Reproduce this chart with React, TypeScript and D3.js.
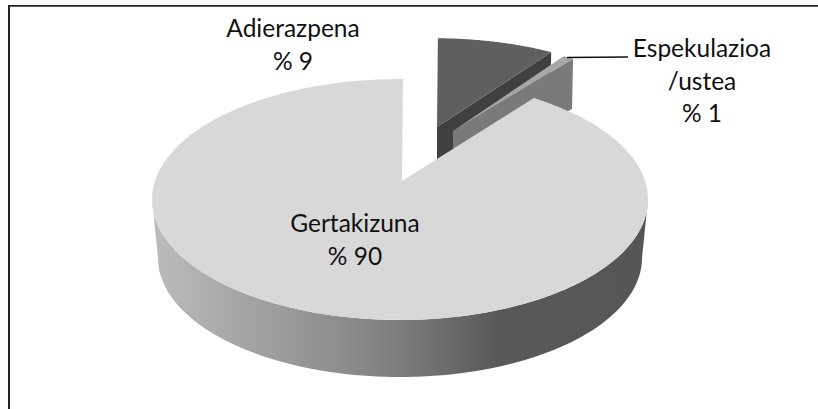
import React from "react";
import * as d3 from "d3";

// Data
const categories = ["Gertakizuna", "Adierazpena", "Espekulazioa"];
const seriesValues = [89.6, 9.5, 0.9];
const labelValues = ["% 90", "% 9", "% 1"];
const topColors = ["#d8d8d8", "#5f5f5f", "#a6a6a6"];
const cutColors = ["#d8d8d8", "#404040", "#7a7a7a"];

const W = 818, H = 409;
const center = { x: 400, y: 199.5 };
const radius = { x: 248, y: 120.5 };
const apex = { x: 402, y: 181 };
const bottom = { x: 400, y: 258, rx: 242, ry: 119 };
const squash = radius.x / radius.y;
const startDeg = 37.7;
const explode = [
  { apex, sx: 1, sy: 1, depth: 0 },
  { apex: { x: 437, y: 127 }, sx: 0.94, sy: 0.87, depth: 48 },
  { apex: { x: 453, y: 131 }, sx: 0.91, sy: 0.87, depth: 50 },
];

type P = { x: number; y: number };

function rim(a: number): P {
  const dx = Math.sin(a), dy = -Math.cos(a) / squash;
  const ox = (apex.x - center.x) / radius.x, oy = (apex.y - center.y) / radius.y;
  const ux = dx / radius.x, uy = dy / radius.y;
  const A = ux * ux + uy * uy, B = 2 * (ox * ux + oy * uy), C = ox * ox + oy * oy - 1;
  const t = (-B + Math.sqrt(B * B - 4 * A * C)) / (2 * A);
  return { x: apex.x + t * dx, y: apex.y + t * dy };
}

const arcs = d3.pie<number>().sort(null)
  .startAngle((startDeg * Math.PI) / 180)
  .endAngle((startDeg * Math.PI) / 180 + 2 * Math.PI)(seriesValues);

const line = d3.line<P>().x((d) => d.x).y((d) => d.y);

function place(p: P, i: number): P {
  const e = explode[i];
  return { x: e.apex.x + e.sx * (p.x - apex.x), y: e.apex.y + e.sy * (p.y - apex.y) };
}

function topPath(i: number) {
  const a = arcs[i];
  const angle = d3.scaleLinear().domain([0, 80]).range([a.startAngle, a.endAngle]);
  const pts = d3.range(81).map((k) => place(rim(angle(k)), i));
  return line([explode[i].apex, ...pts]) + "Z";
}

function cutPath(i: number) {
  const a = arcs[i];
  const e = explode[i];
  const r = place(rim(a.endAngle), i);
  return line([e.apex, r, { x: r.x - 1, y: r.y + e.depth }, { x: e.apex.x, y: e.apex.y + e.depth }]) + "Z";
}

function wallPath() {
  const t = d3.scaleLinear().domain([0, 100]).range([Math.PI, 0]);
  const upper = d3.range(101).map((k) => ({
    x: center.x + radius.x * Math.cos(t(k)),
    y: center.y + radius.y * Math.sin(t(k)),
  }));
  const lower = d3.range(101).map((k) => ({
    x: bottom.x + bottom.rx * Math.cos(t(100 - k)),
    y: bottom.y + bottom.ry * Math.sin(t(100 - k)),
  }));
  return line([...upper, ...lower]) + "Z";
}

const font = "Lato, Carlito, sans-serif";
const fontSize = 24.5;

function Label({ x, ys, lines }: { x: number; ys: number[]; lines: string[] }) {
  return (
    <text fontFamily={font} fontSize={fontSize} fill="#111" textAnchor="middle">
      {lines.map((l, i) => (
        <tspan key={i} x={x} y={ys[i]}>{l}</tspan>
      ))}
    </text>
  );
}

export default function App() {
  return (
    <svg width={W} height={H} style={{ position: "absolute", left: 0, top: 0, display: "block" }}>
      <defs>
        <linearGradient id="wall" gradientUnits="userSpaceOnUse" x1={152} x2={648} y1={0} y2={0}>
          <stop offset="0" stopColor="#bcbcbc" />
          <stop offset="0.48" stopColor="#808080" />
          <stop offset="0.7" stopColor="#585858" />
          <stop offset="1" stopColor="#565656" />
        </linearGradient>
      </defs>
      <rect x={0} y={0} width={W} height={H} fill="#fff" />
      <line x1={8} x2={818} y1={5.8} y2={5.8} stroke="#222" strokeWidth={1.8} />
      <line x1={9} x2={9} y1={5} y2={409} stroke="#222" strokeWidth={2} />

      {[1, 2].map((i) => (
        <g key={categories[i]}>
          <path d={cutPath(i)} fill={cutColors[i]} />
          <path d={topPath(i)} fill={topColors[i]} />
        </g>
      ))}

      <path d={wallPath()} fill="url(#wall)" />
      <path d={topPath(0)} fill={topColors[0]} />

      <line x1={567} x2={628} y1={57.5} y2={57} stroke="#111" strokeWidth={1.6} />

      <Label x={293} ys={[37, 70]} lines={[categories[1], labelValues[1]]} />
      <Label x={702} ys={[57, 90, 122]} lines={[categories[2], "/ustea", labelValues[2]]} />
      <Label x={355} ys={[232, 265]} lines={[categories[0], labelValues[0]]} />
    </svg>
  );
}
